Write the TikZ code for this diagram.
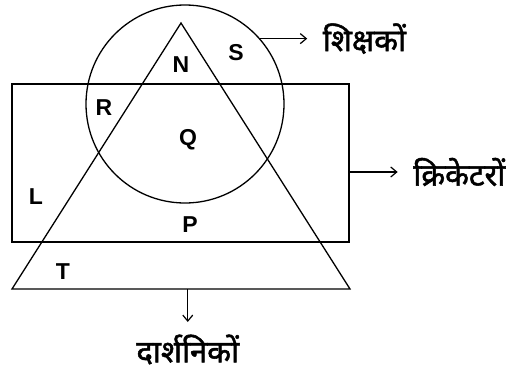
\documentclass[tikz,border=0pt]{standalone}
\usepackage{fontspec}
\setmainfont{Liberation Sans}
\newfontfamily\hindifont[Script=Devanagari, FakeBold=1.6]{Noto Sans}
\usepackage{tikz}
\usetikzlibrary{arrows.meta, positioning, calc}

\begin{document}
\begin{tikzpicture}[
    x=1pt, y=-1pt,
    line width=1.3pt,
    setline/.style={draw, line width=1.3pt, inner sep=0pt},
    region/.style={font=\fontsize{23}{27}\selectfont\bfseries, inner sep=0pt},
    setname/.style={font=\fontsize{31}{36}\selectfont\hindifont, inner sep=0pt},
    arr/.style={-{Straight Barb[length=6pt, width=10pt]}, line width=1.2pt},
]
\useasboundingbox (0,0) rectangle (519,375);

% === Sets ===
\node[setline, rectangle, minimum width=337pt, minimum height=158pt] (rect) at (180.5,163) {};
\node[setline, circle, minimum size=198pt] (circ) at (185,104) {};
\coordinate (tA) at (181,23);
\coordinate (tL) at (12,289);
\coordinate (tR) at (350,289);
\draw[line join=miter] (tA) -- (tL) -- (tR) -- cycle;

% === Region letters ===
\node[region] (rN) at (181,65) {N};
\node[region] (rS) at (236,53) {S};
\node[region] (rR) at (104,108) {R};
\node[region] (rQ) at (188,140) {Q};
\node[region] (rL) at (36,197) {L};
\node[region] (rP) at (190,225) {P};
\node[region] (rT) at (63,272) {T};

% === Set names ===
\draw[arr] (circ.41) -- ++(47,0) coordinate (sEnd);
\node[setname, right=15pt of sEnd] (shikshak) {शिक्षकों};

\draw[arr] ([yshift=-9pt]rect.east) -- ++(48,0) coordinate (cEnd);
\node[setname, right=15pt of cEnd] (cricket) {क्रिकेटरों};

\draw[arr] ($(tL)!0.52!(tR)$) -- ++(0,33) coordinate (dEnd);
\node[setname, below=12pt of dEnd] (darshnik) {दार्शनिकों};

\end{tikzpicture}
\end{document}
